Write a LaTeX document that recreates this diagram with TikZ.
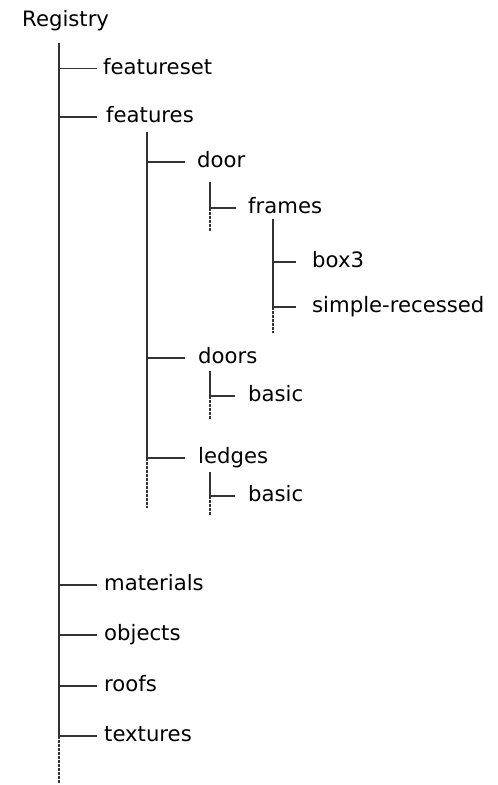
\documentclass[tikz,border=0pt]{standalone}
\usepackage{fontspec}
\setmainfont{DejaVu Sans}
\begin{document}
\fontsize{21.2}{25}\selectfont
\begin{tikzpicture}[x=1pt,y=-1pt,
  entry/.style={anchor=mid west, inner sep=0pt},
  branch/.style={line width=1.1pt, draw=black!80},
  cont/.style={branch, dash pattern=on 2.5pt off 1.5pt}]
\useasboundingbox (0,0) rectangle (498,785);

% directory labels
\node[entry, anchor=base west] (reg) at (22,26) {Registry};
\node[entry] (featureset) at (103,68.5) {featureset};
\node[entry] (features)   at (106,117) {features};
\node[entry] (door)       at (197,162) {door};
\node[entry] (frames)     at (248,208) {frames};
\node[entry] (box3)       at (312,262) {box3};
\node[entry] (simple)     at (312,307) {simple-recessed};
\node[entry] (doors)      at (198,358) {doors};
\node[entry] (basicA)     at (248,396) {basic};
\node[entry] (ledges)     at (198,458) {ledges};
\node[entry] (basicB)     at (248,496) {basic};
\node[entry] (materials)  at (104,585) {materials};
\node[entry] (objects)    at (104,635) {objects};
\node[entry] (roofs)      at (104,686) {roofs};
\node[entry] (textures)   at (104,736) {textures};

% top of each trunk line
\coordinate (t0) at (59,43);
\coordinate (t1) at (147,132);
\coordinate (t2) at (210,182);
\coordinate (t3) at (273,219);
\coordinate (t4) at (210,371);
\coordinate (t5) at (210,472);

% Registry
\draw[branch] (t0) -- (t0 |- textures.mid west);
\draw[cont] (t0 |- textures.mid west) -- ++(0,47);
\foreach \n in {featureset,features,materials,objects,roofs,textures}
  \draw[branch] (t0 |- \n.mid west) -- ++(38,0);

% features
\draw[branch] (t1) -- (t1 |- ledges.mid west);
\draw[cont] (t1 |- ledges.mid west) -- ++(0,50);
\foreach \n in {door,doors,ledges}
  \draw[branch] (t1 |- \n.mid west) -- ++(38,0);

% door
\draw[branch] (t2) -- (t2 |- frames.mid west) -- ++(26,0);
\draw[cont] (t2 |- frames.mid west) -- ++(0,24);

% frames
\draw[branch] (t3) -- (t3 |- simple.mid west);
\draw[cont] (t3 |- simple.mid west) -- ++(0,26);
\foreach \n in {box3,simple}
  \draw[branch] (t3 |- \n.mid west) -- ++(23,0);

% doors
\draw[branch] (t4) -- (t4 |- basicA.mid west) -- ++(25,0);
\draw[cont] (t4 |- basicA.mid west) -- ++(0,24);

% ledges
\draw[branch] (t5) -- (t5 |- basicB.mid west) -- ++(25,0);
\draw[cont] (t5 |- basicB.mid west) -- ++(0,20);
\end{tikzpicture}
\end{document}
